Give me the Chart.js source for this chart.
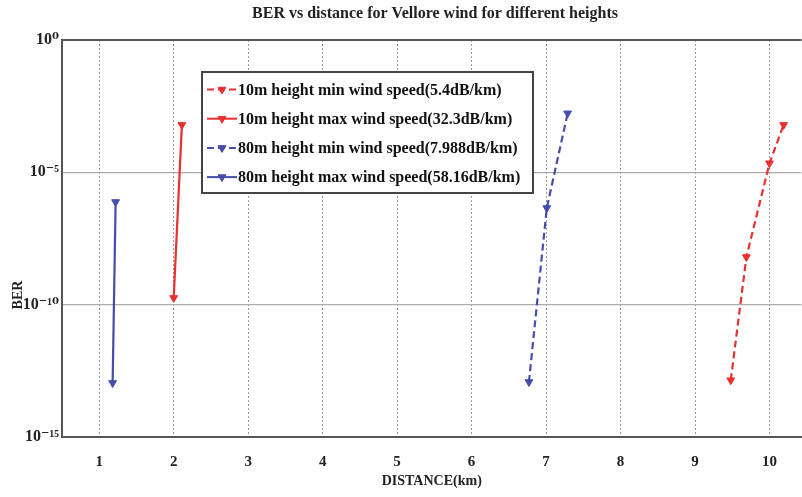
<!DOCTYPE html>
<html><head><meta charset="utf-8">
<script src="https://cdn.jsdelivr.net/npm/chart.js@4/dist/chart.umd.min.js"></script>
<style>html,body{margin:0;padding:0;background:#fff;overflow:hidden;width:802px;height:497px}canvas{display:block}</style>
</head><body>
<canvas id="c" width="807" height="497"></canvas>
<script>
const chartTitle = 'BER vs distance for Vellore wind for different heights';
const xAxisTitle = 'DISTANCE(km)';
const yAxisTitle = 'BER';
const seriesNames = [
  '10m height min wind speed(5.4dB/km)',
  '10m height max wind speed(32.3dB/km)',
  '80m height min wind speed(7.988dB/km)',
  '80m height max wind speed(58.16dB/km)'
];
const xTickValues = [1, 2, 3, 4, 5, 6, 7, 8, 9, 10];
const yTickValues = [1, 1e-5, 1e-10, 1e-15];
const yTickLabels = ['10\u2070', '10\u207B\u2075', '10\u207B\u00B9\u2070', '10\u207B\u00B9\u2075'];

const minWind10mDistance = [9.48, 9.69, 10.0, 10.19];
const minWind10mBER      = [1.4e-13, 6.3e-9, 2.2e-5, 6.2e-4];
const maxWind10mDistance = [2.0, 2.11];
const maxWind10mBER      = [1.8e-10, 6.2e-4];
const minWind80mDistance = [6.77, 7.01, 7.29];
const minWind80mBER      = [1.2e-13, 4.5e-7, 1.7e-3];
const maxWind80mDistance = [1.18, 1.22];
const maxWind80mBER      = [1.1e-13, 7.6e-7];

const RED = '#e8302e', BLUE = '#464cab';
const SERIF = "'Liberation Serif', 'DejaVu Serif', serif";

function pts(xs, ys) { return xs.map((x, i) => ({x: x, y: ys[i]})); }
function ds(label, xs, ys, color, dash) {
  return {
    label: label, data: pts(xs, ys), showLine: true,
    borderColor: color, backgroundColor: color, borderWidth: 2.2,
    borderDash: dash, pointStyle: 'triangle', rotation: 180,
    pointRadius: 4.5, pointBorderWidth: 1, pointBorderColor: color,
    pointBackgroundColor: color
  };
}

const textPlugin = {
  id: 'texts',
  afterDraw(chart) {
    const ctx = chart.ctx;
    ctx.save();
    ctx.font = 'bold 16px ' + SERIF;
    ctx.fillStyle = '#222';
    ctx.textAlign = 'center';
    ctx.textBaseline = 'middle';
    ctx.fillText(chartTitle, 435, 14);
    ctx.translate(18, 295);
    ctx.rotate(-Math.PI / 2);
    ctx.font = 'bold 14px ' + SERIF;
    ctx.fillText(yAxisTitle, 0, 0);
    ctx.restore();
  }
};

const legendPlugin = {
  id: 'boxLegend',
  afterDatasetsDraw(chart) {
    const ctx = chart.ctx;
    const bx = 202, by = 72, bw = 331, bh = 121;
    ctx.save();
    ctx.fillStyle = '#fff';
    ctx.fillRect(bx, by, bw, bh);
    ctx.strokeStyle = '#444';
    ctx.lineWidth = 2;
    ctx.strokeRect(bx, by, bw, bh);
    chart.data.datasets.forEach((d, i) => {
      const y = 89.5 + i * 29.2;
      ctx.save();
      ctx.strokeStyle = d.borderColor;
      ctx.lineWidth = 2;
      ctx.setLineDash(d.borderDash || []);
      ctx.beginPath(); ctx.moveTo(207, y); ctx.lineTo(237, y); ctx.stroke();
      ctx.restore();
      ctx.save();
      ctx.fillStyle = d.borderColor; ctx.strokeStyle = d.borderColor; ctx.lineWidth = 1;
      Chart.helpers.drawPoint(ctx, {pointStyle: 'triangle', rotation: 180, radius: 4.5, borderWidth: 1}, 222, y);
      ctx.restore();
      ctx.font = 'bold 16px ' + SERIF;
      ctx.fillStyle = '#111';
      ctx.textAlign = 'left';
      ctx.textBaseline = 'middle';
      ctx.fillText(d.label, 238, y + 1);
    });
    ctx.restore();
  }
};

new Chart(document.getElementById('c'), {
  type: 'scatter',
  data: {
    datasets: [
      ds(seriesNames[0], minWind10mDistance, minWind10mBER, RED, [7, 4]),
      ds(seriesNames[1], maxWind10mDistance, maxWind10mBER, RED, []),
      ds(seriesNames[2], minWind80mDistance, minWind80mBER, BLUE, [7, 4]),
      ds(seriesNames[3], maxWind80mDistance, maxWind80mBER, BLUE, [])
    ]
  },
  options: {
    responsive: false, animation: false, devicePixelRatio: 1,
    layout: {padding: {left: 0, right: 0, top: 40, bottom: 0}},
    plugins: {
      legend: {display: false},
      tooltip: {enabled: false},
      title: {display: false}
    },
    scales: {
      x: {
        type: 'linear', min: 0.5, max: 10.43,
        afterBuildTicks(s) { s.ticks = xTickValues.map(v => ({value: v})); },
        afterFit(s) { s.height = 60; },
        grid: {color: '#9a9a9a', lineWidth: 1, drawTicks: false},
        border: {display: true, color: '#555', width: 2, dash: [2, 2]},
        ticks: {color: '#222', padding: 16, font: {family: SERIF, size: 15, weight: 'bold'}},
        title: {display: true, text: xAxisTitle, color: '#222', padding: {top: 0, bottom: 7},
                font: {family: SERIF, size: 14, weight: 'bold'}}
      },
      y: {
        type: 'logarithmic', min: 1e-15, max: 1,
        afterBuildTicks(s) { s.ticks = yTickValues.map(v => ({value: v})); },
        afterFit(s) { s.width = 62; },
        grid: {
          drawTicks: false,
          color: c => (c.tick && c.tick.value === 1) ? '#555' : '#ababab',
          lineWidth: c => (c.tick && c.tick.value === 1) ? 2 : 1.3
        },
        border: {display: true, color: '#555', width: 2},
        ticks: {
          color: '#222', padding: 3,
          font: {family: SERIF, size: 16, weight: 'bold'},
          callback: (v) => { const i = yTickValues.indexOf(v); return i >= 0 ? yTickLabels[i] : ''; }
        }
      }
    }
  },
  plugins: [textPlugin, legendPlugin]
});
</script>
</body></html>
